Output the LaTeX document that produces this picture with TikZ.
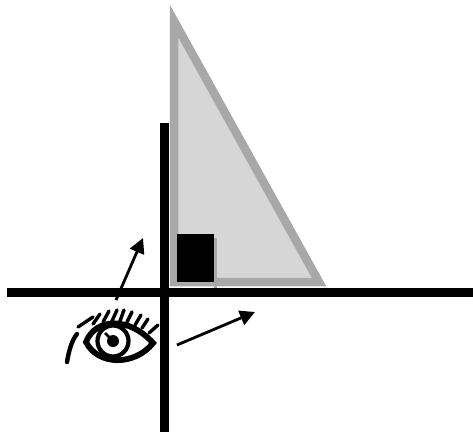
\documentclass[tikz,border=0pt]{standalone}
\usepackage{xcolor}
\usepackage{tikz}
\usetikzlibrary{arrows.meta}
\definecolor{wedgefill}{gray}{0.84}
\definecolor{wedgeline}{gray}{0.66}
\tikzset{
  axis/.style={line width=8.5pt, black},
  wedge/.style={draw=wedgeline, fill=wedgefill, line width=8.5pt, miter limit=20},
  arrow/.style={-{Triangle[length=15pt, width=15pt]}, line width=2.8pt},
  eyeline/.style={line width=4.2pt, black},
  lash/.style={line width=3.4pt, black, line cap=round},
}

\begin{document}
\begin{tikzpicture}[x=1pt, y=-1pt]
    \useasboundingbox (0,0) rectangle (473,432);
    % triangle and square
    \draw[wedge] (174,21) -- (174,282) -- (319,282) -- cycle;
    \fill[wedgeline] (214,238) rectangle (217,288);
    \node[fill=black, minimum width=37pt, minimum height=48pt, inner sep=0pt, anchor=north west] (square) at (177,234) {};
    % axes
    \coordinate (vtop) at (164.5,123);
    \coordinate (vbot) at (164.5,432);
    \coordinate (hleft) at (7,292.5);
    \coordinate (hright) at (473,292.5);
    \draw[axis] (vtop) -- (vbot);
    \draw[axis] (hleft) -- (hright);
    % arrows
    \coordinate (upfrom) at (116,300);
    \coordinate (upto) at (143,238);
    \coordinate (rightfrom) at (177,345);
    \coordinate (rightto) at (255,312);
    \draw[arrow] (upfrom) -- (upto);
    \draw[arrow] (rightfrom) -- (rightto);
    % eye
    \draw[eyeline, line width=5.8pt] (86,342) .. controls (96,317) and (130,317) .. (153,343) .. controls (135,366) and (98,366) .. cycle;
    \draw[eyeline] (113,341) circle (15.5);
    \fill (113,341) circle (6);
    \draw[line width=2.6pt] (113,341) -- (105,333);
    \foreach \xa/\ya/\xb/\yb in {78/327/93/317, 93/324/100/314, 103/322/109/311,
        112/321/117/310, 120/321/124/310, 127/322/132/312, 135/325/141/315,
        142/328/148/319, 149/333/158/325}
      \draw[lash] (\xa,\ya) -- (\xb,\yb);
    \draw[line width=4.4pt, line cap=round] (77,334) .. controls (72,340) and (69,350) .. (67,362);
\end{tikzpicture}
\end{document}
